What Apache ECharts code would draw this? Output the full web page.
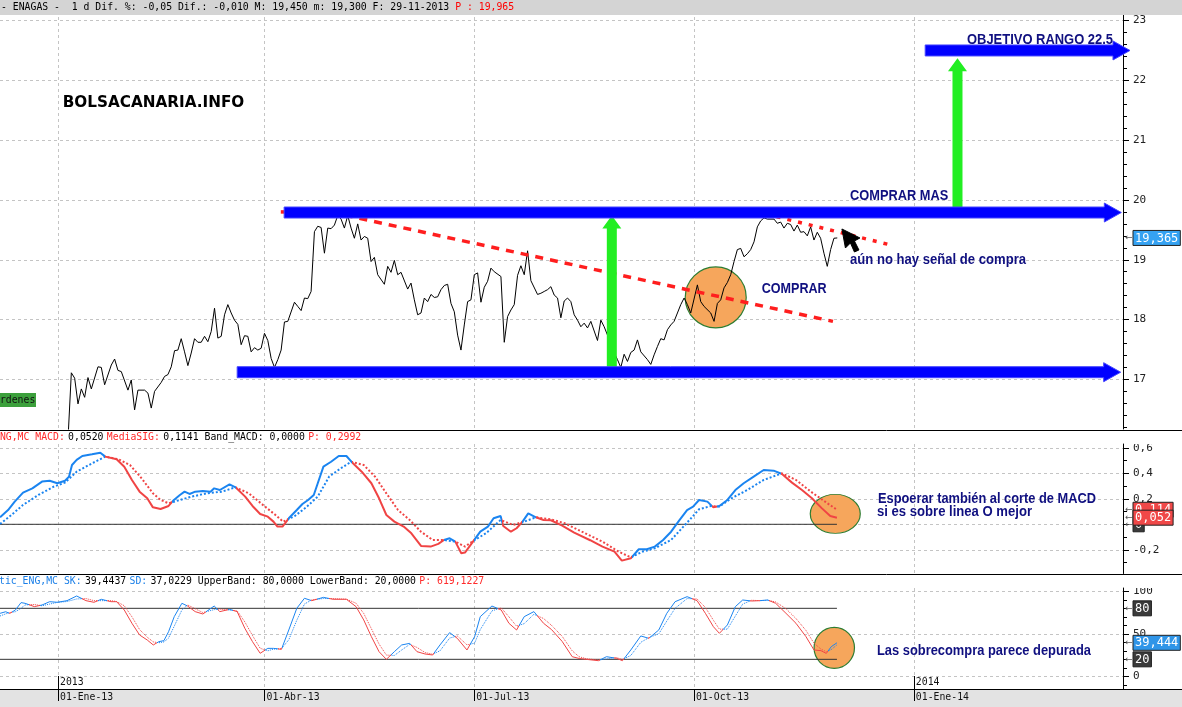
<!DOCTYPE html>
<html><head><meta charset="utf-8">
<script src="https://cdn.jsdelivr.net/npm/echarts@6/dist/echarts.min.js"></script>
<style>html,body{margin:0;padding:0;background:#fff;}#c{width:1182px;height:707px;}</style>
</head><body><div id="c"></div>
<script>
// ===================== DATA (sessions = trading-day number, 0 = 02-Jan-2013) =====================
const xTickSessions = [0, 62, 125, 191, 257];
const xTickLabels = ['01-Ene-13', '01-Abr-13', '01-Jul-13', '01-Oct-13', '01-Ene-14'];
const yearSessions = [0, 257];
const yearLabels = ['2013', '2014'];
const priceTicks = [17, 18, 19, 20, 21, 22, 23];
const macdTicks = [-0.4, -0.2, 0, 0.2, 0.4, 0.6];
const stochTicks = [0, 50, 100];

const price = [[3,16.0],[4,17.11],[5,17.02],[6,16.59],[7,16.84],[8,16.70],[9,17.03],[10,16.84],[12,17.21],[13,17.20],[14,16.91],[16,17.24],[17,17.34],[18,17.15],[19,17.13],[21,16.82],[22,16.99],[23,16.49],[24,16.82],[26,16.82],[27,16.77],[28,16.52],[29,16.80],[31,16.95],[32,17.05],[33,17.08],[34,17.21],[35,17.48],[36,17.49],[37,17.68],[38,17.46],[39,17.23],[40,17.44],[41,17.68],[42,17.62],[43,17.62],[44,17.72],[45,17.63],[46,17.80],[47,18.19],[48,17.69],[49,17.72],[50,18.08],[51,18.25],[52,18.11],[53,17.99],[54,17.92],[55,17.58],[56,17.73],[57,17.72],[58,17.46],[59,17.53],[60,17.49],[61,17.52],[62,17.77],[63,17.65],[64,17.35],[65,17.20],[66,17.33],[67,17.49],[68,17.96],[69,17.97],[71,18.29],[72,18.22],[73,18.15],[74,18.36],[75,18.35],[76,18.47],[77,19.47],[78,19.56],[79,19.54],[80,19.11],[81,19.53],[82,19.52],[83,19.58],[84,19.74],[85,19.68],[86,19.53],[87,19.74],[88,19.53],[89,19.36],[90,19.60],[91,19.33],[92,19.39],[93,19.36],[94,18.97],[95,19.04],[96,18.75],[98,18.59],[99,18.89],[100,18.79],[101,18.99],[102,18.75],[103,18.79],[105,18.51],[106,18.61],[107,18.33],[108,18.08],[109,18.11],[110,18.36],[111,18.30],[112,18.42],[113,18.37],[114,18.38],[115,18.50],[116,18.57],[117,18.59],[118,18.27],[119,18.13],[120,17.74],[121,17.49],[122,17.91],[123,18.30],[124,18.33],[125,18.75],[126,18.78],[127,18.29],[128,18.54],[129,18.64],[130,18.86],[131,18.80],[133,18.72],[134,17.62],[135,18.05],[136,18.16],[137,18.25],[138,18.74],[139,18.90],[140,18.75],[141,19.15],[142,18.65],[144,18.42],[145,18.44],[146,18.47],[147,18.50],[148,18.55],[149,18.41],[150,18.36],[151,18.03],[152,18.31],[153,18.36],[154,18.30],[155,18.08],[156,17.99],[157,17.88],[158,17.94],[159,17.86],[160,17.97],[162,17.65],[163,17.99],[164,17.88],[165,17.74],[166,17.60],[167,17.45],[168,17.33],[169,17.20],[170,17.42],[171,17.30],[172,17.45],[173,17.49],[174,17.66],[175,17.46],[177,17.33],[178,17.25],[179,17.41],[180,17.55],[181,17.68],[182,17.66],[183,17.83],[184,17.91],[185,17.97],[186,18.11],[187,18.25],[188,18.36],[189,18.25],[190,18.11],[192,18.58],[193,18.30],[194,18.22],[196,18.11],[197,17.97],[198,18.27],[199,18.33],[200,18.53],[201,18.62],[202,18.75],[203,18.97],[204,19.17],[205,19.19],[206,19.05],[207,19.10],[208,19.17],[209,19.30],[210,19.55],[211,19.65],[212,19.70],[213,19.68],[215,19.68],[216,19.61],[217,19.63],[218,19.53],[219,19.61],[220,19.59],[221,19.48],[222,19.58],[223,19.46],[224,19.47],[225,19.40],[226,19.55],[227,19.33],[228,19.46],[229,19.36],[230,19.11],[231,18.89],[232,19.17],[233,19.36],[234,19.365]];

const macd = [[-17.4,0.055],[-15,0.112],[-13,0.178],[-10.5,0.248],[-7.7,0.282],[-4.8,0.335],[-2.5,0.342],[-0.2,0.322],[2.1,0.342],[3.3,0.374],[4.2,0.465],[5.6,0.505],[7.3,0.536],[10.2,0.549],[12.7,0.562],[14.2,0.531],[17.6,0.51],[19.9,0.452],[22.2,0.348],[24.5,0.256],[26.8,0.204],[28.5,0.133],[30.8,0.12],[33.2,0.144],[34.8,0.191],[36.6,0.23],[38,0.256],[39.5,0.238],[41.2,0.256],[43.5,0.261],[45.8,0.256],[46.9,0.282],[48.6,0.269],[51.5,0.314],[53.3,0.29],[56.2,0.217],[58.4,0.144],[60.7,0.081],[63,0.06],[64.7,0.021],[65.9,-0.018],[67.4,-0.018],[69.3,0.047],[71.7,0.112],[73.4,0.159],[75.1,0.191],[76.8,0.23],[78,0.322],[79.7,0.452],[82,0.491],[84.3,0.536],[86.6,0.536],[88.1,0.491],[91.2,0.413],[94.1,0.322],[96.4,0.204],[98.6,0.073],[101,0.021],[103.8,-0.018],[106.1,-0.071],[109,-0.17],[111.9,-0.175],[114.2,-0.154],[115.9,-0.123],[117.6,-0.11],[119.3,-0.136],[121.1,-0.227],[122.2,-0.222],[123.9,-0.162],[126.8,-0.058],[129.1,-0.018],[130.8,0.047],[132.9,0.065],[133.7,-0.013],[136,-0.058],[137.7,-0.031],[139.5,0.021],[141.2,0.086],[143.5,0.055],[145.8,0.034],[148,0.032],[151.4,-0.01],[155,-0.065],[159.8,-0.125],[163.5,-0.175],[167.1,-0.214],[169.3,-0.285],[172,-0.267],[174.4,-0.196],[176.8,-0.196],[179.2,-0.175],[181.7,-0.123],[184.1,-0.058],[186.5,0.029],[188.9,0.112],[190.7,0.139],[192.5,0.191],[195,0.178],[196.8,0.133],[198.6,0.144],[201,0.191],[203.4,0.269],[205.9,0.322],[208.9,0.374],[211.9,0.426],[214.9,0.421],[217.4,0.395],[220.4,0.327],[223.4,0.269],[226.4,0.204],[229.4,0.125],[231.9,0.065],[233.9,0.052]];

const macdSignal = [[-17.4,0.003],[-14,0.073],[-10.5,0.152],[-5.9,0.23],[-1.3,0.295],[2.1,0.327],[5.6,0.413],[10.2,0.478],[14.2,0.531],[18.2,0.51],[21.6,0.465],[25.1,0.361],[28.5,0.243],[30.8,0.191],[33.2,0.165],[36.6,0.191],[40.1,0.217],[44.7,0.243],[49.2,0.256],[53.3,0.29],[57.3,0.243],[61.9,0.144],[65.3,0.073],[67.6,0.021],[71.1,0.065],[74.5,0.133],[78,0.217],[81.4,0.374],[84.9,0.439],[88.1,0.491],[91.8,0.465],[95.2,0.374],[98.6,0.243],[102.1,0.112],[105.6,0.034],[109,-0.058],[112.5,-0.123],[115.9,-0.123],[119.3,-0.136],[122.2,-0.175],[125.1,-0.123],[128.5,-0.071],[132.9,0.034],[136.6,-0.005],[140,0.021],[143.5,0.055],[148,0.039],[152.2,0.008],[157.3,-0.058],[163.5,-0.136],[168.3,-0.214],[172,-0.259],[175.6,-0.214],[179.2,-0.188],[184.1,-0.123],[188.9,0.013],[192.5,0.118],[196.1,0.144],[198.6,0.139],[202.2,0.204],[207,0.269],[211.9,0.348],[217.4,0.4],[221.6,0.348],[226.4,0.25],[231.3,0.16],[233.9,0.114]];

const stochK = [[-17.4,74.1],[-15.7,76],[-14.5,74],[-12.8,78],[-11.1,86.7],[-9.9,85.9],[-7.1,82],[-4.8,83.9],[-2.5,87.8],[-0.2,87.1],[2.7,89],[5.6,94.5],[8.4,89],[10.8,87.1],[13,90.6],[15.9,87.8],[17.6,87.8],[19.9,78],[22.2,62.4],[24.5,48.6],[26.8,42.7],[28.6,36.9],[30.3,40.8],[31.8,42],[33.2,52.5],[34.9,70.2],[37.2,85.9],[38.9,82.7],[41.2,76.1],[43.5,73.3],[46.9,82.7],[48.6,76.1],[51.5,78.8],[53.8,76.1],[56.1,56.5],[58.4,40.8],[60.7,27.1],[63,32.9],[64.7,32.9],[67.1,31.8],[69.3,54.5],[71.7,80],[74,91.8],[76.2,89],[79.7,92.9],[82.6,90.6],[86.6,90.6],[89.5,82],[91.8,66.3],[94.1,46.7],[96.4,29],[98.6,20],[101,29],[103.2,36.9],[105.6,38.8],[107.8,29],[110.2,26.3],[112.5,25.1],[114.7,36.9],[117.6,51.4],[119.9,44.7],[122.8,31],[125.1,46.7],[126.8,70.2],[130.3,82.7],[133.1,78],[135.4,62.4],[137.7,54.5],[140,70.2],[142.9,76.1],[145.8,62.4],[148.2,55],[151.4,41],[154.4,23.1],[156.5,21],[158.6,20],[162.3,18.4],[164.7,23.1],[167.7,21.2],[169.5,18.4],[172,31],[175,47.5],[177.4,44.7],[180.4,54.5],[182.8,74.1],[185.3,87.8],[188.9,93.7],[191.9,89],[194.4,74.1],[196.8,58.4],[198.6,50.6],[201,60.4],[203.4,82],[205.6,89.8],[208.3,88.6],[210.7,89],[213.1,89.8],[215.5,85.9],[218.6,74.1],[221.6,62.4],[224.6,46.7],[227,31],[229.1,30.2],[230.7,27],[232.2,34.9],[233.9,39.44]];

const stochD = [[-17.4,71],[-15.7,73.5],[-14.5,75],[-12.8,76],[-11.1,80],[-9.9,84],[-7.1,84.5],[-4.8,83],[-2.5,85],[-0.2,87],[2.7,88],[5.6,91],[8.4,91.5],[10.8,89],[13,89],[15.9,89],[17.6,88],[19.9,83],[22.2,70],[24.5,55],[26.8,46],[28.6,40.5],[30.3,39.5],[31.8,40.5],[33.2,45],[34.9,59],[37.2,78],[38.9,84],[41.2,79.5],[43.5,75],[46.9,78.5],[48.6,79],[51.5,78],[53.8,77],[56.1,64],[58.4,48],[60.7,33],[63,30],[64.7,32],[67.1,32.5],[69.3,43],[71.7,66],[74,85],[76.2,90],[79.7,91.5],[82.6,91.5],[86.6,90.8],[89.5,86],[91.8,74],[94.1,56],[96.4,38],[98.6,25],[101,24.5],[103.2,31],[105.6,37.5],[107.8,34],[110.2,28],[112.5,26],[114.7,30],[117.6,45],[119.9,47.5],[122.8,37],[125.1,39],[126.8,55],[130.3,77],[133.1,80.5],[135.4,70],[137.7,59],[140,62],[142.9,73],[145.8,68],[148.2,60],[151.4,47],[154.4,30],[156.5,23],[158.6,20.8],[162.3,19.2],[164.7,20.5],[167.7,22],[169.5,20],[172,24.5],[175,40],[177.4,45.5],[180.4,50],[182.8,65],[185.3,80],[188.9,91.5],[191.9,91],[194.4,81],[196.8,66],[198.6,55.5],[201,55.5],[203.4,71],[205.6,85],[208.3,89.5],[210.7,89],[213.1,89.5],[215.5,87.5],[218.6,79.5],[221.6,68],[224.6,54],[227,39],[229.1,32],[230.7,29],[232.2,31.5],[233.9,37.02]];

const macdBandLevels = [0];
const stochBandLevels = [20, 80];
const priceTagValues = [19.365];
const macdTagValues = [0, 0.114, 0.052];
const stochTagValues = [80, 20, 39.444];

// analyst drawings (in session / price coordinates)
const supportLevel = 17.12, resistanceLevel = 19.79, targetLevel = 22.5;
const priceDrawings = [
  {kind:'trend', a:[81.7,19.80], b:[232.7,17.97], dash:[8,7]},
  {kind:'trend', a:[66.9,19.80], b:[68.3,19.80]},
  {kind:'trend', a:[215.8,19.72], b:[249.8,19.25], dash:[4,7]},
  {kind:'up', s:166.3, from:supportLevel, to:19.74},
  {kind:'up', s:270.1, from:resistanceLevel, to:22.37},
  {kind:'band', from:53.8, to:319.1, v:supportLevel},
  {kind:'band', from:67.9, to:319.3, v:resistanceLevel},
  {kind:'band', from:260.4, to:321.9, v:targetLevel},
  {kind:'cursor', at:[235.4, 19.515]}
];
const priceCircle = [197.5, 18.37];
const macdCircle = [233.4, 0.082];
const stochCircle = [233.1, 33.5];

// ===================== LAYOUT / STYLE =====================
const SMIN = -17.42, SMAX = 319.8;
const UP = '#1a84f0', DN = '#f04444';
const MONO = '"DejaVu Sans Mono", monospace';
const NAVY = '#101080';

function interp(arr, k) {
  if (k <= arr[0][0]) return arr[0][1];
  for (let i = 1; i < arr.length; i++) {
    if (k <= arr[i][0]) { const a = arr[i-1], b = arr[i]; return a[1] + (b[1]-a[1])*(k-a[0])/(b[0]-a[0]); }
  }
  return arr[arr.length-1][1];
}
function crossPieces(a, b) {
  const lo = Math.max(a[0][0], b[0][0]), hi = Math.min(a[a.length-1][0], b[b.length-1][0]);
  const pieces = []; let cur = null, start = -1e6;
  for (let k = lo; k <= hi + 1e-9; k += 0.05) {
    const up = interp(a, k) >= interp(b, k);
    if (cur === null) cur = up;
    else if (up !== cur) { pieces.push({min:start, max:k, color: cur ? UP : DN}); start = k; cur = up; }
  }
  pieces.push({min:start, max:1e6, color: cur ? UP : DN});
  return pieces;
}
function comma(v) { return String(v).replace('.', ','); }
function steps(lo, hi, st) { const r = []; for (let i = Math.round(lo/st); i*st <= hi + 1e-9; i++) r.push(+(i*st).toFixed(4)); return r; }

const grids = [
  {left:0, top:11, width:1123, height:418},
  {left:0, top:444, width:1123, height:129.5},
  {left:0, top:588, width:1123, height:101}
];
const yRanges = [[16.17, 23.16], [-0.386, 0.63], [-14.9, 103.9]];

function xAx(g, show) {
  return {type:'value', gridIndex:g, min:SMIN, max:SMAX, position:'bottom',
    axisLine:{show:show, onZero:false, lineStyle:{color:'#000', width:1}},
    axisTick:{show:show, length:12, customValues:xTickSessions, lineStyle:{color:'#000'}},
    axisLabel:{show:show, customValues:xTickSessions, formatter:v => xTickLabels[xTickSessions.indexOf(v)] || '',
      align:'left', margin:3, padding:[0,0,0,2], fontFamily:MONO, fontSize:9.8, color:'#111'},
    splitLine:{show:true, lineStyle:{color:'#c4c4c4', type:[3,3], width:1}}};
}
function yMain(g, ticks, fmt) {
  return {type:'value', gridIndex:g, position:'right', min:yRanges[g][0], max:yRanges[g][1],
    axisLine:{show:true, onZero:false, lineStyle:{color:'#000', width:1}},
    axisTick:{show:true, length:6, customValues:ticks, lineStyle:{color:'#000'}},
    axisLabel:{show:true, customValues:ticks, formatter:fmt, margin:10, color:'#222', fontFamily:MONO, fontSize:11},
    splitLine:{show:true, lineStyle:{color:'#c4c4c4', type:[3,3], width:1}}};
}
function yMinor(g, minors) {
  return {type:'value', gridIndex:g, position:'right', min:yRanges[g][0], max:yRanges[g][1],
    axisLine:{show:false, onZero:false}, axisTick:{show:true, length:4, customValues:minors, lineStyle:{color:'#000'}},
    axisLabel:{show:false}, splitLine:{show:false}};
}

function renderPriceDrawing(params, api) {
  const d = priceDrawings[params.dataIndex];
  if (d.kind === 'trend') {
    const p = api.coord(d.a), q = api.coord(d.b);
    const st = {stroke:'#ff1e1e', lineWidth:3.5, lineCap:'butt'};
    if (d.dash) st.lineDash = d.dash;
    return {type:'line', shape:{x1:p[0], y1:p[1], x2:q[0], y2:q[1]}, style:st};
  }
  if (d.kind === 'up') {
    const b = api.coord([d.s, d.from]), t = api.coord([d.s, d.to]);
    const x = b[0], yb = b[1], yt = t[1];
    return {type:'polygon', shape:{points:[[x-5,yb],[x-5,yt+13],[x-9.5,yt+13],[x,yt],[x+9.5,yt+13],[x+5,yt+13],[x+5,yb]]},
      style:{fill:'#22ee22'}};
  }
  if (d.kind === 'band') {
    const p = api.coord([d.from, d.v]), q = api.coord([d.to, d.v]);
    const y = p[1], h = 5.5, hh = 9.5, hl = 17;
    return {type:'polygon', shape:{points:[[p[0],y-h],[q[0]-hl,y-h],[q[0]-hl,y-hh],[q[0],y],[q[0]-hl,y+hh],[q[0]-hl,y+h],[p[0],y+h]]},
      style:{fill:'#0000ff', stroke:'#4646ff', lineWidth:1}};
  }
  if (d.kind === 'cursor') {
    const t = api.coord(d.at), x = t[0], y = t[1];
    const pts = [[0,0],[18,9],[12.5,12],[17,21],[12.5,23],[8.5,14],[3.5,19]].map(p => [x+p[0], y+p[1]]);
    return {type:'polygon', shape:{points:pts}, style:{fill:'#000', stroke:'#000', lineWidth:1, lineJoin:'round'}};
  }
  return null;
}
function circleRender(center, rx, ry, bandLevels, lastSession) {
  return function(params, api) {
    if (params.dataIndex === 0) {
      const c = api.coord(center);
      return {type:'circle', x:c[0], y:c[1], scaleY:ry/rx, shape:{cx:0, cy:0, r:rx},
        style:{fill:'#f6a65c', stroke:'#2e7d32', lineWidth:1.2}};
    }
    const lvl = bandLevels[params.dataIndex-1];
    const p = api.coord([SMIN, lvl]), q = api.coord([lastSession, lvl]);
    return {type:'line', shape:{x1:p[0], y1:p[1], x2:q[0], y2:q[1]}, style:{stroke:'#333', lineWidth:1}};
  };
}
function tagRender(values, colors) {
  return function(params, api) {
    const v = values[params.dataIndex];
    const p = api.coord([SMAX, v]);
    const x0 = p[0], y = p[1];
    const txt = comma(v);
    const w = txt.length * 7.22 + 4;
    return {type:'group', children:[
      {type:'text', x:x0+2, y:y, style:{text:'\u2190', fill:'#555', font:'9px "DejaVu Sans"', align:'left', verticalAlign:'middle'}},
      {type:'rect', shape:{x:x0+10, y:y-7.5, width:w, height:15}, style:{fill:colors[params.dataIndex], stroke:'#222', lineWidth:1}},
      {type:'text', x:x0+12, y:y+0.5, style:{text:txt, fill:'#fff', font:'12px ' + MONO, align:'left', verticalAlign:'middle'}}
    ]};
  };
}

const mctx = document.createElement('canvas').getContext('2d');
function fitText(str, x, y, w, size, color, family) {
  const font = 'bold ' + size + 'px ' + family;
  mctx.font = font;
  const mw = mctx.measureText(str).width;
  return {type:'text', x:x, y:y, scaleX:w/mw, z:60, silent:true,
    style:{text:str, font:font, fill:color, align:'left', verticalAlign:'middle'}};
}
const ARIAL = '"Liberation Sans", Arial, sans-serif';

const graphic = [
  {type:'rect', shape:{x:0, y:0, width:1182, height:15}, style:{fill:'#d4d4d4'}, z:50},
  {type:'text', x:1, y:7.5, z:51, style:{text:'{k|- ENAGAS -  1 d Dif. %: -0,05 Dif.: -0,010 M: 19,450 m: 19,300 F: 29-11-2013 }{r|P : 19,965}',
    rich:{k:{fill:'#000', font:'9.8px ' + MONO}, r:{fill:'#ff0000', font:'9.8px ' + MONO}}, verticalAlign:'middle', align:'left'}},
  {type:'rect', shape:{x:1124, y:431, width:58, height:13}, style:{fill:'#fff'}, z:40},
  {type:'rect', shape:{x:1124, y:575, width:58, height:13}, style:{fill:'#fff'}, z:40},
  {type:'line', shape:{x1:0, y1:430.5, x2:1182, y2:430.5}, style:{stroke:'#000', lineWidth:1}, z:45},
  {type:'line', shape:{x1:0, y1:574.5, x2:1182, y2:574.5}, style:{stroke:'#000', lineWidth:1}, z:45},
  {type:'rect', shape:{x:0, y:690, width:1182, height:17}, style:{fill:'#e3e3e3'}, z:-1},
  {type:'line', shape:{x1:0, y1:689.5, x2:1182, y2:689.5}, style:{stroke:'#000', lineWidth:1}, z:45},
  {type:'text', x:-6, y:437.5, z:51, style:{text:'{r|ENG,MC MACD:} {k|0,0520} {r|MediaSIG:} {k|0,1141 Band_MACD: 0,0000} {r|P: 0,2992}',
    rich:{k:{fill:'#000', font:'9.8px ' + MONO}, r:{fill:'#ff2a2a', font:'9.8px ' + MONO}}, verticalAlign:'middle', align:'left'}},
  {type:'text', x:-1, y:581.5, z:51, style:{text:'{b|tic_ENG,MC SK:} {k|39,4437} {b|SD:} {k|37,0229 UpperBand: 80,0000 LowerBand: 20,0000} {r|P: 619,1227}',
    rich:{k:{fill:'#000', font:'9.8px ' + MONO}, b:{fill:'#1a7fe8', font:'9.8px ' + MONO}, r:{fill:'#ff2a2a', font:'9.8px ' + MONO}}, verticalAlign:'middle', align:'left'}},
  {type:'rect', shape:{x:0, y:393, width:36, height:14}, style:{fill:'#3ca03c'}, z:20},
  {type:'text', x:-6, y:400.5, z:21, style:{text:'\u00d3rdenes', fill:'#111', font:'9.8px ' + MONO, align:'left', verticalAlign:'middle'}},
  fitText('BOLSACANARIA.INFO', 62.7, 102.5, 181.6, 16, '#000', '"DejaVu Sans", sans-serif'),
  fitText('OBJETIVO RANGO 22.5', 967, 40, 146, 15, NAVY, ARIAL),
  fitText('COMPRAR MAS', 850, 195.5, 98.3, 15, NAVY, ARIAL),
  fitText('a\u00fan no hay se\u00f1al de compra', 850, 259.5, 176, 15, NAVY, ARIAL),
  fitText('COMPRAR', 761.7, 289, 65, 15, NAVY, ARIAL),
  fitText('Espoerar tambi\u00e9n al corte de MACD', 878, 499.5, 218, 14, NAVY, ARIAL),
  fitText('si es sobre linea O mejor', 877, 512, 155, 14, NAVY, ARIAL),
  fitText('Las sobrecompra parece depurada', 877, 651.5, 214, 14, NAVY, ARIAL)
];

const chart = echarts.init(document.getElementById('c'));
chart.setOption({
  animation:false,
  backgroundColor:'#fff',
  grid:grids,
  xAxis:[xAx(0,false), xAx(1,false), xAx(2,true),
    {type:'value', gridIndex:2, min:SMIN, max:SMAX, position:'bottom',
      axisLine:{show:false, onZero:false},
      axisTick:{show:true, inside:true, length:13, customValues:yearSessions, lineStyle:{color:'#000'}},
      axisLabel:{show:true, inside:true, customValues:yearSessions, formatter:v => yearLabels[yearSessions.indexOf(v)] || '',
        align:'left', margin:2, padding:[0,0,0,2], fontFamily:MONO, fontSize:9.8, color:'#111'},
      splitLine:{show:false}}],
  yAxis:[
    yMain(0, priceTicks, v => String(v)), yMinor(0, steps(16.2, 23.1, 0.2)),
    yMain(1, macdTicks, v => Math.abs(v) < 1e-9 ? '0' : v.toFixed(1).replace('.', ',')), yMinor(1, steps(-0.3, 0.6, 0.1)),
    yMain(2, stochTicks, v => String(v)), yMinor(2, steps(-10, 100, 10))
  ],
  visualMap:[
    {type:'piecewise', show:false, seriesIndex:[1,2], dimension:0, pieces:crossPieces(macd, macdSignal)},
    {type:'piecewise', show:false, seriesIndex:[3,4], dimension:0, pieces:crossPieces(stochK, stochD)}
  ],
  series:[
    {type:'line', xAxisIndex:0, yAxisIndex:0, data:price, symbol:'none', z:3, lineStyle:{color:'#000', width:1}, silent:true},
    {type:'line', xAxisIndex:1, yAxisIndex:2, data:macd, symbol:'none', z:3, lineStyle:{width:2}, silent:true},
    {type:'line', xAxisIndex:1, yAxisIndex:2, data:macdSignal, symbol:'none', z:3, lineStyle:{width:2, type:'dotted'}, silent:true},
    {type:'line', xAxisIndex:2, yAxisIndex:4, data:stochK, symbol:'none', z:3, lineStyle:{width:1}, silent:true},
    {type:'line', xAxisIndex:2, yAxisIndex:4, data:stochD, symbol:'none', z:3, lineStyle:{width:1, type:'dotted'}, silent:true},
    {type:'custom', xAxisIndex:0, yAxisIndex:0, z:5, silent:true, clip:false,
      data:priceDrawings.map(d => [d.s || (d.a ? d.a[0] : (d.from || d.at[0])), 18]), renderItem:renderPriceDrawing},
    {type:'custom', xAxisIndex:0, yAxisIndex:0, z:1, silent:true,
      data:[priceCircle], renderItem:circleRender(priceCircle, 30.5, 30.5, [], 0)},
    {type:'custom', xAxisIndex:1, yAxisIndex:2, z:2, silent:true,
      data:[macdCircle].concat(macdBandLevels.map(l => [0, l])),
      renderItem:circleRender(macdCircle, 25, 19.5, macdBandLevels, macd[macd.length-1][0])},
    {type:'custom', xAxisIndex:2, yAxisIndex:4, z:2, silent:true,
      data:[stochCircle].concat(stochBandLevels.map(l => [0, l])),
      renderItem:circleRender(stochCircle, 20.2, 20.5, stochBandLevels, stochK[stochK.length-1][0])},
    {type:'custom', xAxisIndex:0, yAxisIndex:0, z:10, silent:true, clip:false,
      data:priceTagValues.map(v => [SMAX, v]), renderItem:tagRender(priceTagValues, ['#35a2f2'])},
    {type:'custom', xAxisIndex:1, yAxisIndex:2, z:10, silent:true, clip:false,
      data:macdTagValues.map(v => [SMAX, v]), renderItem:tagRender(macdTagValues, ['#3a3a3a', '#f04848', '#f04848'])},
    {type:'custom', xAxisIndex:2, yAxisIndex:4, z:10, silent:true, clip:false,
      data:stochTagValues.map(v => [SMAX, v]), renderItem:tagRender(stochTagValues, ['#3a3a3a', '#3a3a3a', '#2f95e8'])}
  ],
  graphic:graphic
});
</script>
</body></html>
